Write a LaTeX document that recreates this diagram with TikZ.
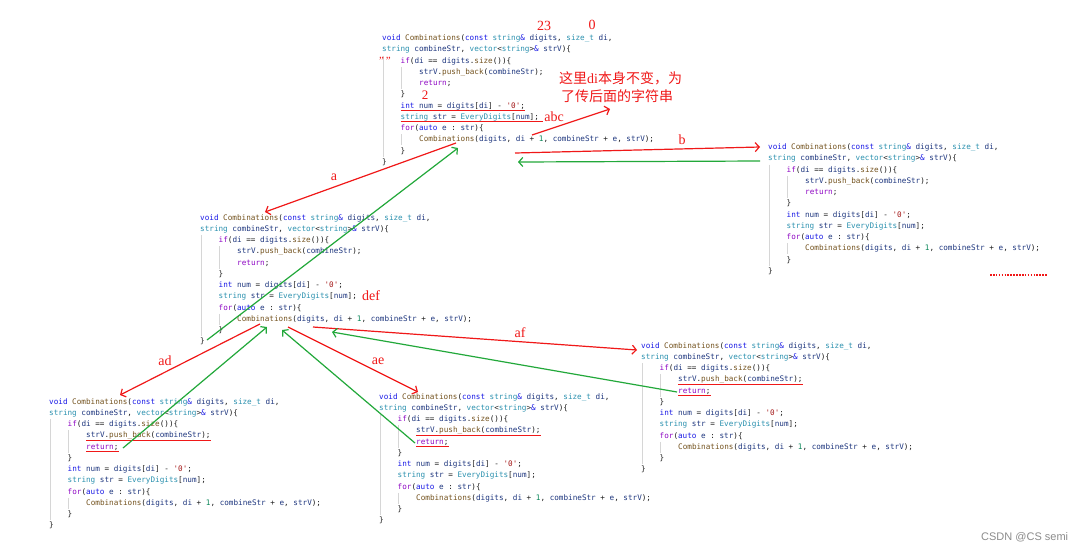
\documentclass[tikz,border=0pt]{standalone}
\usepackage{fontspec}
\setmainfont{Liberation Serif}
\setmonofont{DejaVu Sans Mono}
\newfontfamily\cjk{Noto Sans CJK SC}
\newfontfamily\wmfont{Liberation Sans}
\usetikzlibrary{arrows.meta}
\definecolor{ckw}{HTML}{1A1AE6}
\definecolor{cfn}{HTML}{74531F}
\definecolor{cty}{HTML}{2B91AF}
\definecolor{cct}{HTML}{8F08C4}
\definecolor{cva}{HTML}{1F377F}
\definecolor{cst}{HTML}{A31515}
\definecolor{cnu}{HTML}{098658}
\definecolor{cpu}{HTML}{1E1E1E}
\definecolor{cred}{HTML}{F01818}
\definecolor{cgreen}{HTML}{22A83A}
\definecolor{cguide}{HTML}{D6D6D6}
\newcommand\Kw[1]{\textcolor{ckw}{#1}}
\newcommand\Fn[1]{\textcolor{cfn}{#1}}
\newcommand\Ty[1]{\textcolor{cty}{#1}}
\newcommand\Ct[1]{\textcolor{cct}{#1}}
\newcommand\Va[1]{\textcolor{cva}{#1}}
\newcommand\St[1]{\textcolor{cst}{#1}}
\newcommand\Nu[1]{\textcolor{cnu}{#1}}
\tikzset{
  cl/.style={anchor=west, inner sep=0pt, text=cpu, font=\fontsize{7.65}{9}\ttfamily, text height=5.6pt, text depth=1.6pt},
  guide/.style={draw=cguide, line width=0.6pt},
  ul/.style={draw=cred, line width=1.1pt},
  ann/.style={inner sep=0pt, text=cred, font=\fontsize{14}{16}\selectfont},
  rarr/.style={draw=cred, line width=1.2pt, -{Straight Barb[length=4pt,width=9pt]}},
  garr/.style={draw=cgreen, line width=1.2pt, -{Straight Barb[length=4pt,width=9pt]}},
}
\newcommand\codeblk[3]{%
  \node[cl] (#1-1) at (#2,#3) {\Kw{void} \Fn{Combinations}(\Kw{const} \Ty{string}\Kw{\&} \Va{digits}, \Ty{size\_t} \Va{di},};
  \node[cl] (#1-2) at (#2,#3+11.25) {\Ty{string} \Va{combineStr}, \Ty{vector}<\Ty{string}>\Kw{\&} \Va{strV})\{};
  \node[cl] (#1-3) at (#2+18.5,#3+2*11.25) {\Ct{if}(\Va{di} == \Va{digits}.\Fn{size}())\{};
  \node[cl] (#1-4) at (#2+37,#3+3*11.25) {\Va{strV}.\Fn{push\_back}(\Va{combineStr});};
  \node[cl] (#1-5) at (#2+37,#3+4*11.25) {\Ct{return};};
  \node[cl] (#1-6) at (#2+18.5,#3+5*11.25) {\}};
  \node[cl] (#1-7) at (#2+18.5,#3+6*11.25) {\Kw{int} \Va{num} = \Va{digits}[\Va{di}] - \St{'0'};};
  \node[cl] (#1-8) at (#2+18.5,#3+7*11.25) {\Ty{string} \Va{str} = \Ty{EveryDigits}[\Va{num}];};
  \node[cl] (#1-9) at (#2+18.5,#3+8*11.25) {\Ct{for}(\Kw{auto} \Va{e} : \Va{str})\{};
  \node[cl] (#1-10) at (#2+37,#3+9*11.25) {\Fn{Combinations}(\Va{digits}, \Va{di} + \Nu{1}, \Va{combineStr} + \Va{e}, \Va{strV});};
  \node[cl] (#1-11) at (#2+18.5,#3+10*11.25) {\}};
  \node[cl] (#1-12) at (#2,#3+11*11.25) {\}};
  \draw[guide] (#2+1,#3+2*11.25-5.5) -- (#2+1,#3+10*11.25+5.5);
  \draw[guide] (#2+19,#3+3*11.25-5.5) -- (#2+19,#3+4*11.25+5.5);
  \draw[guide] (#2+19,#3+9*11.25-5.5) -- (#2+19,#3+9*11.25+5.5);
}
\begin{document}
\begin{tikzpicture}[x=1pt,y=-1pt]
\fill[white] (0,0) rectangle (1092,550);
\useasboundingbox (0,0) rectangle (1092,550);

% code blocks
\codeblk{T}{382}{38.5}
\codeblk{R}{768}{147.5}
\codeblk{M}{200}{218}
\codeblk{BL}{49}{402}
\codeblk{BM}{379}{397}
\codeblk{BR}{641}{346}

% underlines
\draw[ul] ([yshift=-0.6pt]T-7.south west) -- ([yshift=-0.6pt]T-7.south east);
\draw[ul] ([yshift=-0.6pt]T-8.south west) -- ([yshift=-0.6pt,xshift=4pt]T-8.south east);
\foreach \b in {BL,BM,BR}{
  \draw[ul] ([yshift=-0.6pt]\b-4.south west) -- ([yshift=-0.6pt]\b-4.south east);
  \draw[ul] ([yshift=-0.6pt]\b-5.south west) -- ([yshift=-0.6pt]\b-5.south east);
}

% annotations
\node[ann] (n23) at (544,25.5) {23};
\node[ann] (n0) at (592,25) {0};
\node[ann, anchor=west] (note1) at (559,78) {{\cjk 这里}di{\cjk 本身不变，为}};
\node[ann, anchor=west] (note2) at (561,96) {\cjk 了传后面的字符串};
\node[ann, font=\fontsize{11}{12}\selectfont] (quo) at (385,61) {”\,”};
\node[ann, font=\fontsize{13}{14}\selectfont] (n2) at (425,95) {2};
\node[ann] (labc) at (554,116.5) {abc};
\node[ann] (lb) at (682,140) {b};
\node[ann] (la) at (334,177) {a};
\node[ann] (ldef) at (371,295.5) {def};
\node[ann] (lad) at (165,361) {ad};
\node[ann] (lae) at (378,361) {ae};
\node[ann] (laf) at (520,333) {af};
\node[anchor=west, inner sep=0pt, text=black!45, font=\wmfont\fontsize{11}{13}\selectfont] (wm) at (981,537) {CSDN @CS semi};

% arrow end points
\coordinate (abcS) at (532,135);
\coordinate (abcE) at (610,109);
\coordinate (bS) at (515,153);
\coordinate (bE) at (760,147);
\coordinate (gbS) at (760,161);
\coordinate (gbE) at (518,162);
\coordinate (aS) at (456,143);
\coordinate (aE) at (265,212);
\coordinate (gaS) at (207,340);
\coordinate (gaE) at (458,148);
\coordinate (adS) at (260,324);
\coordinate (adE) at (120,395);
\coordinate (gadS) at (123,448);
\coordinate (gadE) at (267,327);
\coordinate (aeS) at (288,327);
\coordinate (aeE) at (418,392);
\coordinate (gaeS) at (415,443);
\coordinate (gaeE) at (282,330);
\coordinate (afS) at (313,327);
\coordinate (afE) at (637,350);
\coordinate (gafS) at (677,392);
\coordinate (gafE) at (332,332);
\coordinate (dotS) at (990,275);
\coordinate (dotE) at (1047,275);

\draw[rarr] (abcS) -- (abcE);
\draw[rarr] (bS) -- (bE);
\draw[garr] (gbS) -- (gbE);
\draw[rarr] (aS) -- (aE);
\draw[garr] (gaS) -- (gaE);
\draw[rarr] (adS) -- (adE);
\draw[garr] (gadS) -- (gadE);
\draw[rarr] (aeS) -- (aeE);
\draw[garr] (gaeS) -- (gaeE);
\draw[rarr] (afS) -- (afE);
\draw[garr] (gafS) -- (gafE);
\draw[cred, line width=1.3pt, dash pattern=on 1.6pt off 1.3pt] (dotS) -- (dotE);
\end{tikzpicture}
\end{document}
